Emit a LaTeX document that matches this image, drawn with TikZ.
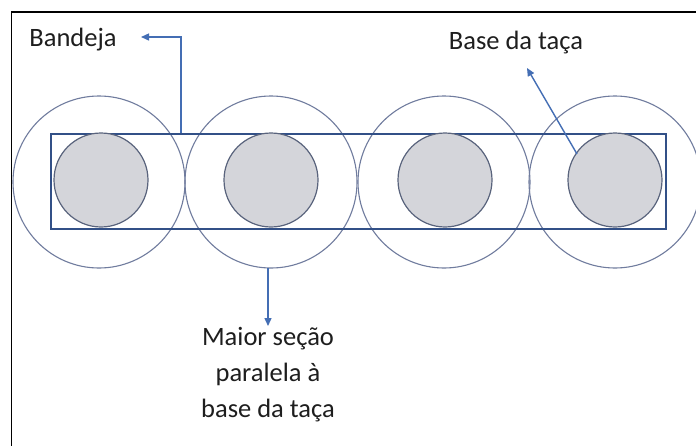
\documentclass[tikz,border=0pt]{standalone}
\usepackage{fontspec}
\setmainfont{Carlito}
\usetikzlibrary{arrows.meta}
\definecolor{ringc}{RGB}{112,124,158}
\definecolor{trayc}{RGB}{50,80,135}
\definecolor{basec}{RGB}{90,100,125}
\definecolor{basefill}{RGB}{212,213,218}
\definecolor{arrc}{RGB}{68,110,180}
\definecolor{txtc}{RGB}{30,30,30}
\tikzset{
  ring/.style={draw=ringc, line width=1.1pt},
  tray/.style={draw=trayc, line width=2pt},
  base/.style={draw=basec, fill=basefill, line width=1.2pt},
  pointer/.style={draw=arrc, line width=1.4pt, -{Triangle[length=8pt,width=7pt]}},
  lbl/.style={text=txtc, font=\fontsize{26.5}{36}\selectfont, inner sep=0pt}
}
\begin{document}
\begin{tikzpicture}[x=1pt,y=-1pt]
\useasboundingbox (0,0) rectangle (696,445);
\clip (0,0) rectangle (696,445);
\fill[white] (0,0) rectangle (696,445);
% frame
\draw[black, line width=1.4pt] (11.5,450) -- (11.5,12) -- (700,12);
% outer rings
\foreach \n/\cx in {1/99,2/271,3/444,4/615}{
  \draw[ring] (\cx,182) circle (86);
}
% tray
\node[tray, minimum width=615pt, minimum height=95pt, inner sep=0pt, anchor=north west] (tray) at (50,133) {};
% bases
\foreach \n/\cx in {1/101,2/271,3/445,4/615}{
  \node[base, circle, minimum size=94pt, inner sep=0pt] (b\n) at (\cx,180) {};
}
\coordinate (r2) at (268,268);
% labels
\node[lbl, anchor=center] (bandeja) at (73,40) {Bandeja};
\node[lbl, anchor=center] (basel) at (516,43) {Base da taça};
\node[lbl, align=center, anchor=north] (maior) at (268,327) {Maior seção\\paralela à\\base da taça};
% pointers
\coordinate (t1) at (181,133);
\draw[pointer] (t1) -- (181,37) -- (141,37);
\coordinate (t2) at (577,154);
\draw[pointer] (t2) -- (527,68);
\draw[pointer] (r2) -- (268,326);
\end{tikzpicture}
\end{document}
